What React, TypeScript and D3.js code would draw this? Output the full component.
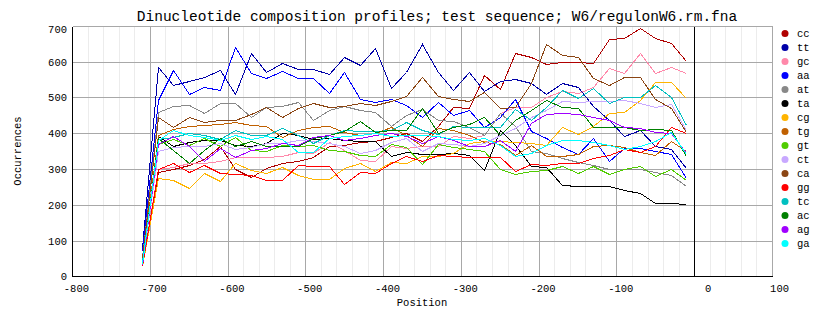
import React from "react";
import * as d3 from "d3";

const positions = [-710,-690,-670,-650,-630,-610,-590,-570,-550,-530,-510,-490,-470,-450,-430,-410,-390,-370,-350,-330,-310,-290,-270,-250,-230,-210,-190,-170,-150,-130,-110,-90,-70,-50,-30,-10];

const cc = [35,291,300,311,328,365,300,277,303,317,321,333,364,367,374,378,390,400,379,420,474,470,563,523,623,614,593,598,600,595,662,665,693,665,653,603];
const tt = [80,586,535,546,558,577,510,623,572,595,579,579,565,612,590,637,525,570,650,572,521,570,518,546,551,540,510,541,530,476,437,391,409,363,355,303];
const gc = [35,300,305,316,318,323,332,332,334,337,346,345,375,352,325,321,363,358,365,365,391,386,395,456,472,472,500,519,513,530,583,567,623,569,586,567];
const aa = [70,493,577,510,530,521,642,567,553,574,553,553,513,572,495,486,496,480,444,486,451,465,418,446,496,405,386,360,342,386,323,358,358,351,342,275];
const at = [55,460,476,479,456,484,484,445,474,476,486,437,465,476,465,460,420,451,467,437,435,418,394,456,420,350,345,330,320,310,301,301,301,292,283,251];
const ta = [40,391,363,375,381,381,368,363,372,400,395,384,386,380,378,377,335,346,341,341,344,340,296,410,368,307,305,255,253,253,251,241,232,206,204,201];
const cg = [30,274,268,246,290,267,316,297,288,305,284,272,272,302,316,295,320,316,335,335,344,372,378,379,374,372,367,418,397,420,456,460,493,544,542,498];
const tg = [45,395,413,420,422,425,430,423,420,390,409,418,420,404,395,400,418,395,363,415,409,395,375,371,340,367,335,335,343,363,368,362,347,338,378,350];
const gt = [40,370,385,368,386,365,390,353,349,367,365,367,353,350,340,335,370,362,315,370,362,355,350,300,286,295,297,309,288,309,285,300,309,279,300,270];
const ct = [38,350,360,363,363,372,355,360,372,372,381,379,372,363,344,353,376,386,350,372,370,365,372,395,414,446,465,490,488,490,490,492,485,474,481,410];
const ca = [50,446,418,444,430,437,437,454,474,446,470,485,472,476,484,480,490,505,556,503,496,491,515,470,474,540,649,619,614,555,534,558,558,495,471,404];
const gg = [30,301,316,292,311,288,286,283,270,270,311,307,307,258,292,290,316,335,321,339,335,333,333,333,293,315,311,316,318,330,339,355,348,365,418,400];
const tc = [40,385,390,400,395,383,409,395,395,414,395,372,395,409,405,405,410,432,408,398,420,418,418,418,468,437,474,521,498,526,485,502,502,535,500,423];
const ac = [35,386,354,316,354,386,363,377,363,363,363,386,395,405,435,404,409,409,471,400,418,425,446,395,437,465,493,474,470,418,418,416,409,411,409,335];
const ag = [32,370,391,363,321,358,333,353,358,372,367,390,395,381,386,395,400,391,372,391,381,363,363,381,350,428,453,456,453,444,438,418,414,404,400,344];
const ga = [35,380,410,395,388,381,395,385,392,384,346,348,386,391,395,400,393,395,395,392,384,382,386,367,335,345,368,381,381,376,367,356,365,378,402,342];

const seriesNames = ["cc","tt","gc","aa","at","ta","cg","tg","gt","ct","ca","gg","tc","ac","ag","ga"];
const seriesValues = [cc,tt,gc,aa,at,ta,cg,tg,gt,ct,ca,gg,tc,ac,ag,ga];
const seriesColors = ["#b00000","#0000a8","#ff88aa","#0000ff","#888888","#000000","#ffb400","#c06000","#50cc00","#c8a8ff","#8b4513","#ff0000","#00c0c0","#008000","#a000ff","#00ffff"];

const xTicks = [-800,-700,-600,-500,-400,-300,-200,-100,0,100];
const yTicks = [0,100,200,300,400,500,600,700];
const title = "Dinucleotide composition profiles; test sequence; W6/regulonW6.rm.fna";

const W = 834, H = 328;
const mono = "'Liberation Mono', monospace";

export default function App() {
  const x = d3.scaleLinear().domain([-800, 100]).range([72, 772]);
  const y = d3.scaleLinear().domain([0, 700]).range([276.3, 25.8]);
  const px = (v: number) => Math.round(x(v)) + 0.5;
  const py = (v: number) => Math.round(y(v)) + 0.5;
  const minor = d3.range(-800, 101, 20);
  const line = d3.line<number>()
    .x((_, i) => Math.round(x(positions[i])) + 0.5)
    .y((d) => Math.round(y(d)) + 0.5);

  return (
    <svg width={W} height={H} style={{ position: "absolute", left: 0, top: 0, background: "#fff" }}>
      <rect x={0} y={0} width={W} height={H} fill="#fff" />
      <text x={437} y={21} textAnchor="middle" fontFamily={mono} fontSize={14.5} fill="#000">{title}</text>
      {minor.map((v) => (
        <line key={"m" + v} x1={px(v)} x2={px(v)} y1={py(700)} y2={py(0)} stroke="#ececec" shapeRendering="crispEdges" />
      ))}
      {xTicks.map((v) => (
        <line key={"gx" + v} x1={px(v)} x2={px(v)} y1={py(700)} y2={py(0)} stroke="#a8a8a8" shapeRendering="crispEdges" />
      ))}
      {yTicks.map((v) => (
        <line key={"gy" + v} x1={px(-800)} x2={px(100)} y1={py(v)} y2={py(v)} stroke="#a8a8a8" shapeRendering="crispEdges" />
      ))}
      <line x1={px(-800)} x2={px(-800)} y1={py(700)} y2={py(0)} stroke="#000" shapeRendering="crispEdges" />
      <line x1={px(-800)} x2={px(100)} y1={py(0)} y2={py(0)} stroke="#000" shapeRendering="crispEdges" />
      <line x1={px(0)} x2={px(0)} y1={py(700)} y2={py(0)} stroke="#000" shapeRendering="crispEdges" />
      {seriesValues.map((vals, k) => (
        <path key={seriesNames[k]} d={line(vals) || ""} fill="none" stroke={seriesColors[k]} strokeWidth={1} shapeRendering="crispEdges" />
      ))}
      {xTicks.map((v) => (
        <text key={"tx" + v} x={x(v) + 17} y={292} textAnchor="end" fontFamily={mono} fontSize={10.5} fill="#000">{v}</text>
      ))}
      {yTicks.map((v) => (
        <text key={"ty" + v} x={67} y={y(v) + (v === 700 ? 7 : 4)} textAnchor="end" fontFamily={mono} fontSize={10.5} fill="#000">{v}</text>
      ))}
      <text x={422} y={306} textAnchor="middle" fontFamily={mono} fontSize={10.5} fill="#000">Position</text>
      <text transform={`translate(21,151) rotate(-90)`} textAnchor="middle" fontFamily={mono} fontSize={10.5} fill="#000">Occurrences</text>
      {seriesNames.map((n, k) => (
        <g key={"lg" + n}>
          <circle cx={785} cy={33.5 + 14 * k} r={3.5} fill={seriesColors[k]} />
          <text x={797} y={37 + 14 * k} fontFamily={mono} fontSize={10.5} fill="#000">{n}</text>
        </g>
      ))}
    </svg>
  );
}
